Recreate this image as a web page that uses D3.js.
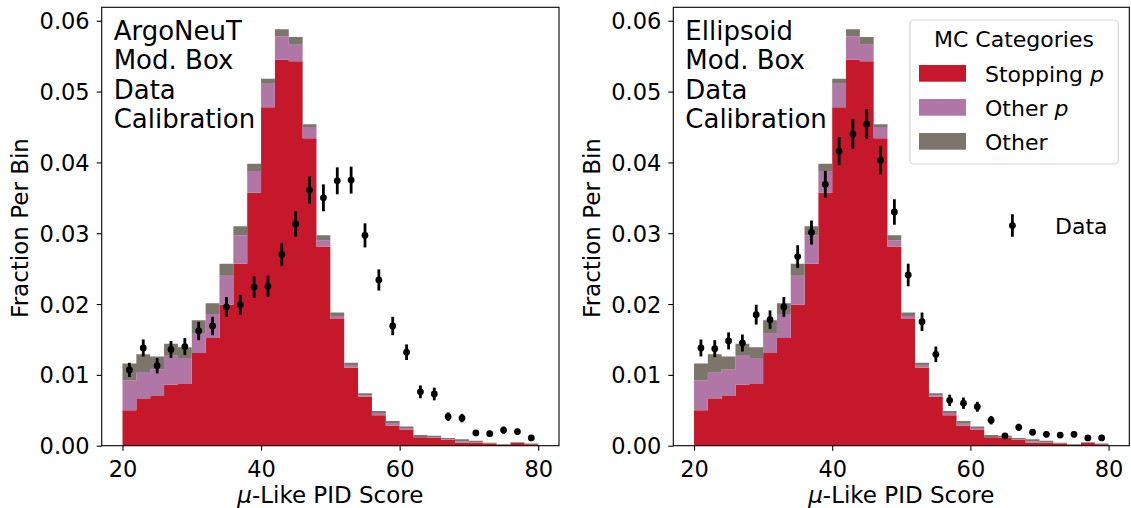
<!DOCTYPE html>
<html>
<head>
<meta charset="utf-8">
<script src="https://cdn.jsdelivr.net/npm/d3@7"></script>
<style>
  body { margin: 0; background: #fff; }
  svg { font-family: "DejaVu Sans", sans-serif; }
</style>
</head>
<body>
<svg id="chart" width="1131" height="508"></svg>
<script>
// bin lower edges, 2 units wide
var binLo = [20, 22, 24, 26, 28, 30, 32, 34, 36, 38, 40, 42, 44, 46, 48,
             50, 52, 54, 56, 58, 60, 62, 64, 66, 68, 70, 72, 74, 76, 78];
var binWidth = 2;

// MC categories (same simulation in both panels)
var stoppingP = [0.0050, 0.0066, 0.0070, 0.0086, 0.0087, 0.0131, 0.0152, 0.0199, 0.0257, 0.0357,
                 0.0478, 0.0545, 0.0543, 0.0434, 0.0281, 0.0179, 0.0110, 0.0069, 0.0043, 0.0028,
                 0.0023, 0.0012, 0.0011, 0.0008, 0.0004, 0.0004, 0.0003, 0.0001, 0.0004, 0.0002];
var otherP    = [0.0042, 0.0037, 0.0038, 0.0041, 0.0037, 0.0027, 0.0034, 0.0041, 0.0040, 0.0031,
                 0.0033, 0.0033, 0.0023, 0.0016, 0.0009, 0.0004, 0.0003, 0.0002, 0.0003, 0.0003,
                 0.0002, 0.0000, 0.0001, 0.0001, 0.0002, 0.0001, 0.0000, 0.0000, 0.0000, 0.0000];
var otherMC   = [0.0024, 0.0026, 0.0018, 0.0017, 0.0015, 0.0019, 0.0015, 0.0017, 0.0013, 0.0010,
                 0.0007, 0.0010, 0.0011, 0.0004, 0.0007, 0.0005, 0.0004, 0.0003, 0.0003, 0.0004,
                 0.0002, 0.0003, 0.0002, 0.0002, 0.0003, 0.0002, 0.0001, 0.0001, 0.0001, 0.0001];

// data, ArgoNeuT calibration
var argoData = [0.0107, 0.0138, 0.0113, 0.0136, 0.0140, 0.0162, 0.0169, 0.0196, 0.0199, 0.0224,
                0.0225, 0.0270, 0.0313, 0.0361, 0.0350, 0.0374, 0.0375, 0.0297, 0.0234, 0.0169,
                0.0132, 0.0076, 0.0073, 0.0041, 0.0039, 0.0018, 0.0017, 0.0022, 0.0020, 0.0011];
var argoErr  = [0.0010, 0.0012, 0.0011, 0.0012, 0.0012, 0.0013, 0.0013, 0.0014, 0.0014, 0.0015,
                0.0015, 0.0016, 0.0018, 0.0019, 0.0019, 0.0019, 0.0019, 0.0017, 0.0015, 0.0013,
                0.0011, 0.0009, 0.0009, 0.0006, 0.0006, 0.0004, 0.0004, 0.0005, 0.0004, 0.0003];

// data, ellipsoid calibration
var ellipData = [0.0138, 0.0137, 0.0148, 0.0145, 0.0185, 0.0178, 0.0196, 0.0267, 0.0301, 0.0369,
                 0.0416, 0.0440, 0.0454, 0.0403, 0.0330, 0.0241, 0.0175, 0.0129, 0.0064, 0.0060,
                 0.0055, 0.0036, 0.0014, 0.0026, 0.0019, 0.0016, 0.0015, 0.0016, 0.0011, 0.0011];
var ellipErr  = [0.0012, 0.0012, 0.0012, 0.0012, 0.0014, 0.0013, 0.0014, 0.0016, 0.0017, 0.0019,
                 0.0020, 0.0021, 0.0021, 0.0020, 0.0018, 0.0016, 0.0013, 0.0011, 0.0008, 0.0008,
                 0.0007, 0.0006, 0.0004, 0.0005, 0.0004, 0.0004, 0.0004, 0.0004, 0.0003, 0.0003];

var xTicks = [20, 40, 60, 80];
var yTicks = [0, 0.01, 0.02, 0.03, 0.04, 0.05, 0.06];
var categories = ['Stopping p', 'Other p', 'Other'];
var colors = ['#c5192b', '#b077a6', '#7c756c'];

var svg = d3.select('#chart');
var yTop = 7.3, yBot = 445.7;

var rows = binLo.map(function(b, i) {
  return {lo: b, s: stoppingP[i], p: otherP[i], o: otherMC[i]};
});
var stacked = d3.stack().keys(['s', 'p', 'o'])(rows);

var panels = [
  {x0: 101.7, x1: 559, text: ['ArgoNeuT', 'Mod. Box', 'Data', 'Calibration'], data: argoData, err: argoErr},
  {x0: 673.3, x1: 1129.3, text: ['Ellipsoid', 'Mod. Box', 'Data', 'Calibration'], data: ellipData, err: ellipErr}
];

panels.forEach(function(pn, pi) {
  var x = d3.scaleLinear().domain([17, 83]).range([pn.x0, pn.x1]);
  var y = d3.scaleLinear().domain([0, 0.0619]).range([yBot, yTop]);
  var g = svg.append('g');

  /* stacked MC histogram, one stepped area per category */
  var area = d3.area()
    .curve(d3.curveStepAfter)
    .x(function(d) { return x(d.lo); })
    .y0(function(d) { return y(d.y0); })
    .y1(function(d) { return y(d.y1); });
  g.selectAll('path.layer')
    .data(stacked)
    .enter().append('path')
    .attr('class', 'layer')
    .attr('fill', function(d, i) { return colors[i]; })
    .attr('d', function(layer) {
      var pts = layer.map(function(d) { return {lo: d.data.lo, y0: d[0], y1: d[1]}; });
      var last = pts[pts.length - 1];
      pts.push({lo: last.lo + binWidth, y0: last.y0, y1: last.y1});
      return area(pts);
    });

  /* data points with error bars */
  var pts = g.selectAll('g.pt')
    .data(pn.data.map(function(v, i) { return {c: binLo[i] + binWidth / 2, v: v, e: pn.err[i]}; }))
    .enter().append('g');
  pts.append('line')
    .attr('x1', function(d) { return x(d.c); })
    .attr('x2', function(d) { return x(d.c); })
    .attr('y1', function(d) { return y(d.v - d.e); })
    .attr('y2', function(d) { return y(d.v + d.e); })
    .attr('stroke', '#000')
    .attr('stroke-width', 2.8);
  pts.append('circle')
    .attr('cx', function(d) { return x(d.c); })
    .attr('cy', function(d) { return y(d.v); })
    .attr('r', 3.4)
    .attr('fill', '#000');

  /* axes */
  var xa = g.append('g')
    .attr('transform', 'translate(0,' + yBot + ')')
    .call(d3.axisBottom(x).tickValues(xTicks).tickSize(5).tickPadding(12).tickSizeOuter(0));
  var ya = g.append('g')
    .attr('transform', 'translate(' + pn.x0 + ',0)')
    .call(d3.axisLeft(y).tickValues(yTicks).tickFormat(d3.format('.2f')).tickSize(5).tickPadding(7).tickSizeOuter(0));
  [xa, ya].forEach(function(a) {
    a.attr('font-size', null).attr('font-family', null);
    a.selectAll('text').attr('font-size', '22.5px').attr('fill', '#000');
    a.selectAll('line').attr('stroke', '#000').attr('stroke-width', 1.1);
    a.select('.domain').remove();
  });
  xa.selectAll('text').attr('dy', null).attr('y', 31.5);
  ya.selectAll('text').attr('dy', '0.36em');

  // frame
  g.append('rect')
    .attr('x', pn.x0).attr('y', yTop)
    .attr('width', pn.x1 - pn.x0).attr('height', yBot - yTop)
    .attr('fill', 'none').attr('stroke', '#000').attr('stroke-width', 1.1);

  // axis labels
  var xl = g.append('text')
    .attr('x', (pn.x0 + pn.x1) / 2).attr('y', 503.3)
    .attr('text-anchor', 'middle').attr('font-size', '23px');
  xl.append('tspan').attr('font-style', 'italic').text('μ');
  xl.append('tspan').text('-Like PID Score');
  g.append('text')
    .attr('transform', 'translate(' + (pn.x0 - 73.6) + ',' + 228 + ') rotate(-90)')
    .attr('text-anchor', 'middle').attr('font-size', '23px')
    .text('Fraction Per Bin');

  // panel annotation
  g.selectAll('text.note')
    .data(pn.text)
    .enter().append('text')
    .attr('class', 'note')
    .attr('x', pn.x0 + 12)
    .attr('y', function(d, i) { return 40 + i * 29.4; })
    .attr('font-size', '26px')
    .text(String);

  if (pi === 1) {
    /* MC legend */
    var lg = g.append('g');
    lg.append('rect')
      .attr('x', 910).attr('y', 20).attr('width', 208.3).attr('height', 144)
      .attr('rx', 4).attr('fill', '#fff').attr('fill-opacity', 0.8)
      .attr('stroke', '#d6d6d6').attr('stroke-width', 1.1);
    lg.append('text')
      .attr('x', 1014).attr('y', 46.7)
      .attr('text-anchor', 'middle').attr('font-size', '22px')
      .text('MC Categories');
    var item = lg.selectAll('g.item')
      .data(categories)
      .enter().append('g')
      .attr('transform', function(d, i) { return 'translate(0,' + (i * 34) + ')'; });
    item.append('rect')
      .attr('x', 919).attr('y', 65).attr('width', 47).attr('height', 16.7)
      .attr('fill', function(d, i) { return colors[i]; });
    var it = item.append('text')
      .attr('x', 985).attr('y', 81.6).attr('font-size', '22px');
    it.append('tspan').text(function(d) { return d.replace(/ p$/, ''); });
    it.filter(function(d) { return / p$/.test(d); })
      .append('tspan').attr('font-style', 'italic').text(' p');

    /* data legend */
    var dl = g.append('g');
    dl.append('line')
      .attr('x1', 1012.4).attr('x2', 1012.4)
      .attr('y1', 214.3).attr('y2', 236.7)
      .attr('stroke', '#000').attr('stroke-width', 2.8);
    dl.append('circle')
      .attr('cx', 1012.4).attr('cy', 225.6).attr('r', 3.4).attr('fill', '#000');
    dl.append('text')
      .attr('x', 1055).attr('y', 234).attr('font-size', '22px')
      .text('Data');
  }
});
</script>
</body>
</html>
